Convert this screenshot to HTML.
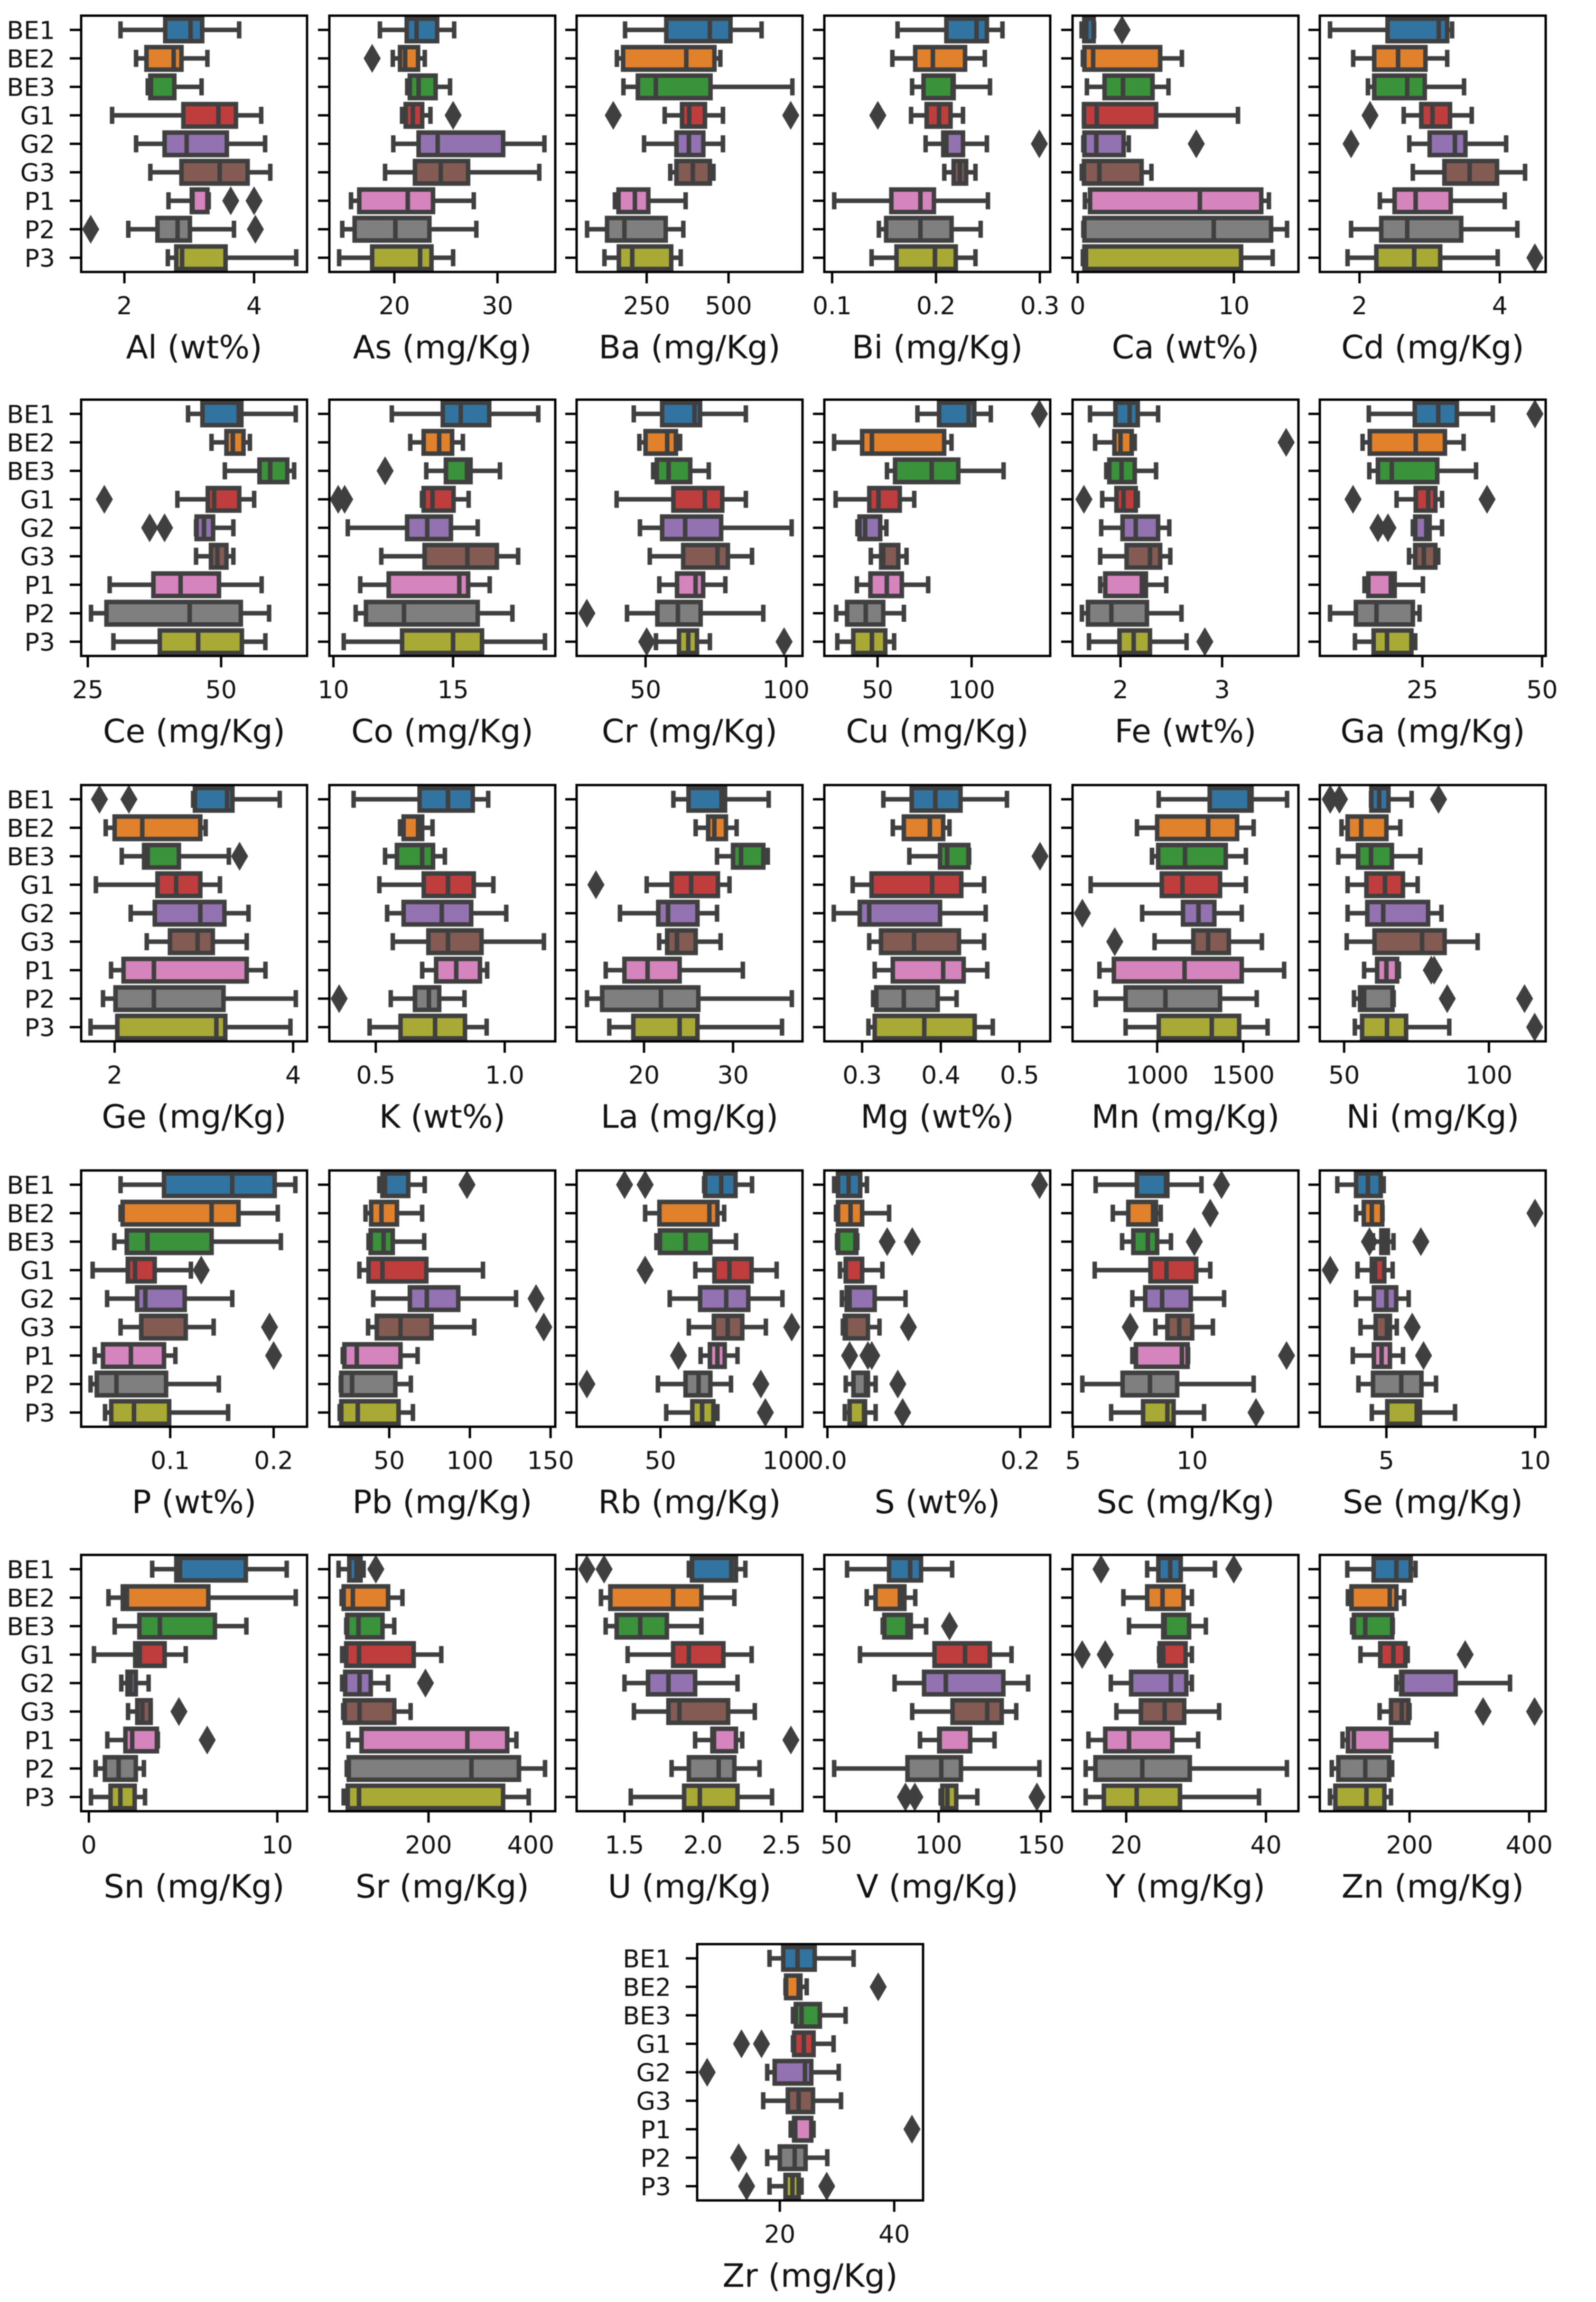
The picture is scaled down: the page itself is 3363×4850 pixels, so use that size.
<!DOCTYPE html>
<html lang="en"><head><meta charset="utf-8"><title>Element concentrations by group</title>
<style>
html,body{margin:0;padding:0;background:#fff;width:3363px;height:4850px;overflow:hidden}
svg{display:block;filter:blur(1px)}
text{font-family:"DejaVu Sans","Liberation Sans",sans-serif;fill:#111}
</style></head><body>
<svg id="chart" xmlns="http://www.w3.org/2000/svg" width="3363" height="4850" viewBox="0 0 3363 4850"></svg>
<script>
const categories=['BE1','BE2','BE3','G1','G2','G3','P1','P2','P3'];
const palette=['#3274a1','#e1812c','#3a923a','#c03d3e','#9372b2','#845b53','#d684bd','#7f7f7f','#a9aa35'];
// each stats row: low whisker, Q1, median, Q3, high whisker
const Al_stats=[[1.94,2.63,3.02,3.20,3.77],[2.18,2.34,2.76,2.88,3.28],[2.36,2.40,2.41,2.77,3.19],[1.81,2.91,3.45,3.72,4.11],[2.18,2.62,2.96,3.58,4.17],[2.40,2.88,3.47,3.90,4.25],[2.68,3.04,3.05,3.28,3.30],[2.06,2.51,2.82,3.01,3.69],[2.67,2.80,2.89,3.56,4.65]];
const Al_fliers=[[],[],[],[],[],[],[3.64,4.0],[1.48,4.02],[]];
const Al_ticks=[2,4];const Al_domain=[1.333,4.817];
const As_stats=[[18.6,21.2,22.15,24.15,25.8],[19.85,20.55,21.05,22.3,22.95],[21.25,21.5,22.35,24.0,25.4],[20.75,21.1,21.8,22.7,23.5],[19.9,22.35,24.2,30.55,34.55],[19.1,22.0,24.5,27.15,34.05],[15.8,16.6,21.3,23.75,27.7],[14.95,16.15,20.1,23.4,27.95],[14.65,17.85,22.5,23.6,25.7]];
const As_fliers=[[],[17.85],[],[25.7],[],[],[],[],[]];
const As_ticks=[20,30];const As_domain=[13.7,35.6];
const Ba_stats=[[184,310,443,506,601],[159,178,371,457,475],[179,223,278,445,695],[305,358,380,428,483],[242,341,379,423,483],[322,341,391,443,454],[153,164,214,255,369],[68,129,182,308,362],[121,165,206,325,354]];
const Ba_fliers=[[],[],[],[148,690],[],[],[],[],[]];
const Ba_ticks=[250,500];const Ba_domain=[36,726];
const Bi_stats=[[.163,.210,.239,.249,.264],[.158,.180,.197,.228,.247],[.177,.188,.216,.217,.252],[.176,.191,.203,.214,.226],[.190,.207,.210,.226,.249],[.208,.217,.223,.229,.238],[.102,.157,.185,.198,.250],[.145,.152,.185,.215,.243],[.138,.162,.199,.219,.238]];
const Bi_fliers=[[],[],[],[.144],[.2995],[],[],[],[]];
const Bi_ticks=[.1,.2,.3];const Bi_domain=[.0925,.31];
const Ca_stats=[[.25,.42,.55,1.02,1.05],[.33,.43,.99,5.28,6.67],[.59,1.72,2.9,4.79,5.81],[.4,.4,1.22,5.02,10.26],[.36,.43,1.19,2.94,3.27],[.26,.4,1.39,4.09,4.72],[.46,.79,7.82,11.75,12.24],[.36,.43,8.71,12.38,13.4],[.33,.43,.53,10.46,12.48]];
const Ca_fliers=[[2.84],[],[],[],[7.59],[],[],[],[]];
const Ca_ticks=[0,10];const Ca_domain=[-.33,14.13];
const Cd_stats=[[1.58,2.40,3.13,3.25,3.32],[1.91,2.21,2.55,2.94,3.25],[2.12,2.21,2.68,2.93,3.49],[2.63,2.88,3.04,3.29,3.60],[2.71,3.0,3.36,3.51,4.09],[2.76,3.21,3.57,3.96,4.36],[2.29,2.50,2.80,3.30,4.07],[1.88,2.31,2.68,3.45,4.25],[1.83,2.24,2.78,3.15,3.97]];
const Cd_fliers=[[],[],[],[2.15],[1.88],[],[],[],[4.5]];
const Cd_ticks=[2,4];const Cd_domain=[1.434,4.654];
const Ce_stats=[[43.8,46.5,53.3,53.8,64],[48.2,51,52.2,54.2,55.4],[50.7,57.2,59.2,62.4,63.7],[41.8,47.5,48.7,53.4,56.2],[45.3,45.4,46.8,48.5,52.3],[45.3,48.1,49.3,51,52.3],[29.1,37.3,42.4,49.6,57.6],[25.6,28.5,44.1,53.7,59],[29.8,38.5,45.7,53.9,58.3]];
const Ce_fliers=[[],[],[],[28.1],[36.6,39.4],[],[],[],[]];
const Ce_ticks=[25,50];const Ce_domain=[23.75,66.12];
const Co_stats=[[12.44,14.57,15.32,16.51,18.56],[13.21,13.77,14.42,14.96,15.41],[13.88,14.7,15.58,15.73,16.96],[13.7,13.77,14.14,15.02,15.65],[10.6,13.08,13.92,14.91,16.03],[12.0,13.81,15.6,16.83,17.72],[11.12,12.31,15.26,15.63,16.53],[10.93,11.36,12.95,16.03,17.48],[10.43,12.87,15,16.21,18.84]];
const Co_fliers=[[],[],[12.16],[10.2,10.47],[],[],[],[],[]];
const Co_ticks=[10,15];const Co_domain=[9.83,19.27];
const Cr_stats=[[45.8,55.9,67.4,69.4,85.7],[47.8,50,57.7,60.8,62.3],[52.7,54,58.2,65.9,72.5],[39.7,59.9,71.1,77.3,85.7],[48,55.9,64.1,76.9,102],[51.5,63.4,75.6,79.3,87.9],[54.9,61.2,67.8,70.5,78.4],[43.4,54.2,61.5,69.6,91.9],[53.7,61.9,65.2,68.3,72.9]];
const Cr_fliers=[[],[],[],[],[],[],[],[29.1],[50.4,99.3]];
const Cr_ticks=[50,100];const Cr_domain=[25.46,105.86];
const Cu_stats=[[71.2,82.7,98.4,101.4,110.2],[26.9,41.8,47,85.4,89.3],[55,59.3,78.8,92.9,117],[27.7,45.6,50.5,61.8,69.5],[39.3,40.4,43.4,51.4,54.7],[46.4,51.9,53,61,65.4],[39,46.2,54.9,62.9,76.9],[28,33.8,43.7,53,64],[28.6,37.1,47,54.1,58.8]];
const Cu_fliers=[[136],[],[],[],[],[],[],[],[]];
const Cu_ticks=[50,100];const Cu_domain=[21.7,141.8];
const Fe_stats=[[1.70,1.95,2.09,2.17,2.37],[1.75,1.94,2.0,2.11,2.14],[1.86,1.89,2.01,2.14,2.35],[1.82,1.96,2.03,2.15,2.17],[1.81,2.02,2.15,2.37,2.48],[1.80,2.06,2.29,2.39,2.49],[1.80,1.85,2.21,2.25,2.45],[1.62,1.68,1.91,2.26,2.60],[1.69,1.99,2.13,2.29,2.65]];
const Fe_fliers=[[],[3.63],[],[1.64],[],[],[],[],[2.83]];
const Fe_ticks=[2,3];const Fe_domain=[1.528,3.751];
const Ga_stats=[[13.8,23.4,28.3,32.2,39.7],[12.5,14,23.6,29.7,33.6],[13.9,15.7,18.6,28.1,36.2],[19.6,23.6,26.2,27.7,29.1],[23,23.5,25.8,26.5,29.1],[22.2,23.5,25.3,27.7,28.3],[12.9,13.7,18.4,19.2,25.1],[5.7,11.1,15.4,23,24.4],[10.9,14.8,17.6,22.7,23.5]];
const Ga_fliers=[[48.5],[],[],[10.5,38.5],[15.7,17.8],[],[],[],[]];
const Ga_ticks=[25,50];const Ga_domain=[3.56,50.75];
const Ge_stats=[[2.88,2.90,3.26,3.32,3.85],[1.90,2.0,2.31,2.96,3.02],[2.08,2.33,2.37,2.72,3.28],[1.79,2.48,2.69,2.96,3.18],[2.18,2.45,2.96,3.23,3.50],[2.36,2.62,2.93,3.10,3.48],[1.96,2.10,2.44,3.48,3.69],[1.87,2.01,2.44,3.22,4.03],[1.73,2.03,3.14,3.24,3.97]];
const Ge_fliers=[[1.83,2.16],[],[3.40],[],[],[],[],[],[]];
const Ge_ticks=[2,4];const Ge_domain=[1.625,4.156];
const K_stats=[[.414,.67,.78,.876,.936],[.594,.608,.664,.68,.72],[.536,.582,.68,.722,.768],[.514,.686,.78,.88,.956],[.544,.608,.756,.87,1.006],[.566,.704,.78,.91,1.152],[.68,.734,.812,.904,.932],[.558,.652,.706,.746,.844],[.476,.596,.73,.846,.93]];
const K_fliers=[[],[],[],[],[],[],[],[.358],[]];
const K_ticks=[.5,1];const K_domain=[.32,1.196];
const La_stats=[[23.3,25.0,28.7,29.1,34],[25.8,27.2,27.9,29.2,30.4],[28.2,30,30.9,33.4,33.9],[20.3,23.1,25.3,28.3,29.6],[17.3,21.6,22.7,26,28.2],[21.7,22.6,23.7,25.8,28.6],[15.7,17.8,20.4,24,31.1],[13.6,15.3,21.9,26.1,36.6],[16.1,18.8,24,26,35.5]];
const La_fliers=[[],[],[],[14.6],[],[],[],[],[]];
const La_ticks=[20,30];const La_domain=[12.43,37.8];
const Mg_stats=[[.327,.363,.393,.425,.484],[.339,.353,.386,.403,.411],[.360,.399,.408,.435,.436],[.288,.312,.389,.426,.455],[.264,.297,.309,.399,.457],[.309,.324,.366,.423,.455],[.316,.339,.403,.429,.459],[.314,.318,.353,.396,.420],[.308,.316,.379,.443,.466]];
const Mg_fliers=[[],[],[.526],[],[],[],[],[],[]];
const Mg_ticks=[.3,.4,.5];const Mg_domain=[.252,.539];
const Mn_stats=[[1009,1305,1536,1548,1754],[883,1000,1296,1464,1560],[970,1006,1162,1398,1515],[614,1027,1147,1365,1515],[913,1150,1240,1332,1491],[985,1210,1296,1416,1608],[665,749,1159,1491,1737],[644,817,1048,1365,1578],[817,1009,1317,1476,1641]];
const Mn_fliers=[[],[],[],[],[566],[754],[],[],[]];
const Mn_ticks=[1000,1500];const Mn_domain=[509,1820];
const Ni_stats=[[59.3,59.4,62.1,65.3,73.3],[49.1,51.2,55.9,64.6,69.4],[48,54.8,59.3,66.5,76.3],[51.2,57.7,64.1,70.3,75.4],[51.2,58,63.5,79,83.6],[50.9,60.5,76.9,84.7,96.1],[56.9,61.4,64.6,68.3,68.9],[53.4,55.5,56.9,66.7,67.1],[53.7,56.2,64.8,71.4,86.3]];
const Ni_fliers=[[45.2,48.4,82.6],[],[],[],[],[],[80.1,81.1],[85.6,112.3],[115.8]];
const Ni_ticks=[50,100];const Ni_domain=[41.6,119.6];
const P_stats=[[.052,.094,.16,.201,.221],[.052,.054,.14,.166,.204],[.046,.058,.078,.140,.207],[.025,.059,.066,.085,.120],[.039,.068,.076,.114,.160],[.052,.072,.072,.115,.142],[.027,.035,.062,.094,.105],[.023,.029,.048,.096,.147],[.037,.043,.065,.099,.156]];
const P_fliers=[[],[],[],[.130],[],[.196],[.20],[],[]];
const P_ticks=[.1,.2];const P_domain=[.0139,.2323];
const Pb_stats=[[43.9,45.8,47.4,61.8,72],[35.3,38.8,45.2,54.8,70.4],[37.2,38.5,46.5,52.2,71.7],[31.5,37.2,45.8,73,108.1],[40.1,62.8,73.3,92.8,128.6],[36.9,42.3,57,76.2,102.7],[21.2,22.2,29.9,57,67.6],[20,20.3,27,53.8,63.4],[19.3,20.3,30.5,55.8,64.7]];
const Pb_fliers=[[98.2],[],[],[],[141],[145.8],[],[],[]];
const Pb_ticks=[50,100,150];const Pb_domain=[12.9,152.9];
const Rb_stats=[[67.4,67.8,74.2,79.9,86.5],[43.9,49.6,69.5,72.7,75.4],[48.4,49.8,60,69.9,80.1],[63.9,71.5,77.5,86.3,96.3],[53.7,65.8,76.2,85,98.6],[61.3,71.3,76.8,82.6,92],[66,69.7,72.7,75.6,80.7],[49,60,65.2,69.9,78.1],[52.3,62.7,66.6,71.1,72.7]];
const Rb_fliers=[[35.7,43.9],[],[],[43.9],[],[102.3],[57.2],[20.7,90],[91.8]];
const Rb_ticks=[50,100];const Rb_domain=[16.6,106.6];
const S_stats=[[.007,.011,.022,.034,.041],[.009,.011,.024,.036,.064],[.010,.011,.029,.030,.031],[.013,.019,.019,.036,.057],[.015,.020,.023,.049,.081],[.016,.018,.019,.042,.054],null,[.019,.027,.040,.042,.050],[.018,.023,.038,.039,.050]];
const S_fliers=[[.22],[],[.062,.088],[],[],[.084],[.023,.042,.046],[.073],[.078]];
const S_ticks=[0,.2];const S_domain=[-.0032,.2311];
const Sc_stats=[[5.95,7.68,8.9,8.96,10.39],[6.67,7.32,8.36,8.48,8.68],[7.06,7.53,8.14,8.53,9.11],[5.91,8.25,8.92,10.17,10.76],[7.49,8.03,8.74,9.94,11.34],[8.46,8.96,9.46,10,10.87],[7.49,7.64,9.57,9.81,9.83],[5.39,7.08,8.23,9.37,12.58],[6.6,7.94,8.96,9.22,10.5]];
const Sc_fliers=[[11.23],[10.76],[10.09],[],[],[7.4],[13.96],[],[12.68]];
const Sc_ticks=[5,10];const Sc_domain=[4.98,14.46];
const Se_stats=[[3.35,3.98,4.38,4.81,4.91],[3.98,4.24,4.51,4.86,4.87],[4.55,4.83,4.93,5.05,5.24],[4.03,4.51,4.62,4.93,5.21],[3.98,4.58,5,5.33,5.75],[4.13,4.64,5.02,5.12,5.35],[3.87,4.58,4.84,5.12,5.56],[4.06,4.55,5.5,6.18,6.67],[4.51,5.03,6.02,6.13,7.31]];
const Se_fliers=[[],[10],[4.43,6.16],[3.11],[],[5.87],[6.25],[],[]];
const Se_ticks=[5,10];const Se_domain=[2.76,10.36];
const Sn_stats=[[3.36,4.64,4.84,8.33,10.5],[1.04,1.80,2.02,6.34,10.98],[1.37,2.68,3.77,6.69,8.36],[.27,2.46,2.70,4.02,5.14],[1.72,2.05,2.21,2.49,3.17],[2.08,2.57,2.84,3.28,3.28],[.98,1.94,2.30,3.61,3.66],[.36,.85,1.58,2.49,2.92],[.11,1.15,1.67,2.43,2.98]];
const Sn_fliers=[[],[],[],[],[],[4.78],[6.28],[],[]];
const Sn_ticks=[0,10];const Sn_domain=[-.41,11.58];
const Sr_stats=[[24,45,59,67,73],[30,34,52,121,149],[39,41,63,110,133],[31,39,64,171,225],[31,37,65,87,121],[33,36,65,133,165],[43,69,276,354,372],[40,44,284,377,428],[34,42,64,346,396]];
const Sr_fliers=[[97],[],[],[],[194],[],[],[],[]];
const Sr_ticks=[200,400];const Sr_domain=[6,448];
const U_stats=[[1.91,1.93,2.18,2.21,2.27],[1.35,1.41,1.81,1.99,2.20],[1.38,1.45,1.60,1.77,1.99],[1.52,1.81,1.91,2.13,2.31],[1.50,1.65,1.78,1.95,2.22],[1.56,1.78,1.85,2.16,2.33],[1.95,2.06,2.07,2.21,2.25],[1.80,1.91,2.10,2.20,2.36],[1.54,1.88,1.98,2.22,2.44]];
const U_fliers=[[1.26,1.37],[],[],[],[],[],[2.56],[],[]];
const U_ticks=[1.5,2,2.5];const U_domain=[1.195,2.634];
const V_stats=[[55.3,75.8,86.1,91.4,106.6],[64.9,69.2,81.1,83.3,88.6],[72.7,73.5,84.8,86.4,93.9],[61.6,98,112.9,125,135.6],[78.5,92.9,103.5,131.6,143.7],[87.1,106.8,123.7,130.8,137.9],[90.9,100.3,100.5,115.4,127.3],[49,84.8,101.3,110.9,149.2],[101,101.8,104.3,108.6,118.9]];
const V_fliers=[[],[],[105.3],[],[],[],[],[],[83.8,88.4,148]];
const V_ticks=[50,100,150];const V_domain=[44.2,154.5];
const Y_stats=[[23,24.6,26.3,27.8,32.7],[19.6,23,25.2,28.2,29.4],[20.4,25.3,25.5,29,31.4],[24.7,24.8,25.3,28.5,29.4],[17.8,20.7,26.4,28.6,29.4],[18.6,22.1,25.5,28.3,33.3],[14.6,17,20.4,26.6,30.3],[14.2,15.6,22.3,29.1,43],[14.2,16.8,21.5,27.7,39]];
const Y_fliers=[[16.4,35.4],[],[],[13.7,17],[],[],[],[],[]];
const Y_ticks=[20,40];const Y_domain=[12.32,44.65];
const Zn_stats=[[96,140,178,202,210],[97,103,167,178,191],[104,107,126,171,172],[118,151,173,193,197],[178,186,188,277,368],[150,169,187,198,200],[88,97,107,169,245],[70,81,126,166,171],[67,76,128,158,169]];
const Zn_fliers=[[],[],[],[293],[],[323,409],[],[],[]];
const Zn_ticks=[200,400];const Zn_domain=[50,427.6];
const Zr_stats=[[18.2,20.6,23.1,26.1,32.9],[21,21.1,23.3,23.6,24.7],[22.3,22.8,23.8,27,31.5],[22.3,22.5,24.2,25.9,29.4],[17.8,19.1,24.4,25.5,30.3],[17.1,21.4,23.3,25.8,30.7],[21.9,22.5,22.7,25.5,25.9],[17.8,20,22.6,24.5,28.3],[18.2,21,22.2,23.3,23.8]];
const Zr_fliers=[[],[37.2],[],[13.3,16.8],[7.3],[],[43.1],[12.8],[14.2,28.2]];
const Zr_ticks=[20,40];const Zr_domain=[5.55,45.04];

const panels=[
['Al (wt%)',Al_stats,Al_fliers,Al_ticks,Al_domain,0],['As (mg/Kg)',As_stats,As_fliers,As_ticks,As_domain,0],['Ba (mg/Kg)',Ba_stats,Ba_fliers,Ba_ticks,Ba_domain,0],['Bi (mg/Kg)',Bi_stats,Bi_fliers,Bi_ticks,Bi_domain,1],['Ca (wt%)',Ca_stats,Ca_fliers,Ca_ticks,Ca_domain,0],['Cd (mg/Kg)',Cd_stats,Cd_fliers,Cd_ticks,Cd_domain,0],
['Ce (mg/Kg)',Ce_stats,Ce_fliers,Ce_ticks,Ce_domain,0],['Co (mg/Kg)',Co_stats,Co_fliers,Co_ticks,Co_domain,0],['Cr (mg/Kg)',Cr_stats,Cr_fliers,Cr_ticks,Cr_domain,0],['Cu (mg/Kg)',Cu_stats,Cu_fliers,Cu_ticks,Cu_domain,0],['Fe (wt%)',Fe_stats,Fe_fliers,Fe_ticks,Fe_domain,0],['Ga (mg/Kg)',Ga_stats,Ga_fliers,Ga_ticks,Ga_domain,0],
['Ge (mg/Kg)',Ge_stats,Ge_fliers,Ge_ticks,Ge_domain,0],['K (wt%)',K_stats,K_fliers,K_ticks,K_domain,1],['La (mg/Kg)',La_stats,La_fliers,La_ticks,La_domain,0],['Mg (wt%)',Mg_stats,Mg_fliers,Mg_ticks,Mg_domain,1],['Mn (mg/Kg)',Mn_stats,Mn_fliers,Mn_ticks,Mn_domain,0],['Ni (mg/Kg)',Ni_stats,Ni_fliers,Ni_ticks,Ni_domain,0],
['P (wt%)',P_stats,P_fliers,P_ticks,P_domain,1],['Pb (mg/Kg)',Pb_stats,Pb_fliers,Pb_ticks,Pb_domain,0],['Rb (mg/Kg)',Rb_stats,Rb_fliers,Rb_ticks,Rb_domain,0],['S (wt%)',S_stats,S_fliers,S_ticks,S_domain,1],['Sc (mg/Kg)',Sc_stats,Sc_fliers,Sc_ticks,Sc_domain,0],['Se (mg/Kg)',Se_stats,Se_fliers,Se_ticks,Se_domain,0],
['Sn (mg/Kg)',Sn_stats,Sn_fliers,Sn_ticks,Sn_domain,0],['Sr (mg/Kg)',Sr_stats,Sr_fliers,Sr_ticks,Sr_domain,0],['U (mg/Kg)',U_stats,U_fliers,U_ticks,U_domain,1],['V (mg/Kg)',V_stats,V_fliers,V_ticks,V_domain,0],['Y (mg/Kg)',Y_stats,Y_fliers,Y_ticks,Y_domain,0],['Zn (mg/Kg)',Zn_stats,Zn_fliers,Zn_ticks,Zn_domain,0],
['Zr (mg/Kg)',Zr_stats,Zr_fliers,Zr_ticks,Zr_domain,0]
];

const NS='http://www.w3.org/2000/svg';
const root=document.getElementById('chart');
const DARK='#3f3f3f',LW=9.5,AW=476,AH=540;
const colX=[171,694,1215,1737,2260,2781];
const rowY=[33,842,1654,2466,3276,4096];
const slug=s=>s.split(' ')[0].toLowerCase();
function mk(tag,parent,attrs){
  const e=document.createElementNS(NS,tag);
  for(const k in attrs)e.setAttribute(k,attrs[k]);
  parent.appendChild(e);
  return e;
}
function drawPanel(p,idx){
  const [label,stats,fliers,ticks,domain,decimals]=p;
  const isLast=idx===30;
  const ax=isLast?1469:colX[idx%6];
  const ay=isLast?rowY[5]:rowY[Math.floor(idx/6)];
  const showYLabels=isLast||idx%6===0;
  const name=slug(label);
  const xScale=v=>ax+(v-domain[0])/(domain[1]-domain[0])*AW;
  const yScale=i=>ay+(i+.5)*AH/categories.length;
  const g=mk('g',root,{});
  
  
  const clip=mk('clipPath',g,{id:'clip-'+name});
  mk('rect',clip,{x:ax,y:ay,width:AW,height:AH});
  const marks=mk('g',g,{'clip-path':'url(#clip-'+name+')'});
  
  
  categories.forEach((cat,i)=>{
    const cy=yScale(i);
    const s=stats[i];
    const bg=mk('g',marks,{});
    
    
    if(s){
      const [lo,q1,med,q3,hi]=s;
      const lineAttrs={stroke:DARK,'stroke-width':LW,'stroke-linecap':'butt'};
      const box=mk('rect',bg,{x:xScale(q1),y:cy-23.7,width:xScale(q3)-xScale(q1),height:47.4,fill:palette[i],stroke:DARK,'stroke-width':LW});
      
      
      const wl=mk('line',bg,Object.assign({x1:xScale(q1),x2:xScale(lo),y1:cy,y2:cy},lineAttrs));
      
      
      const wh=mk('line',bg,Object.assign({x1:xScale(q3),x2:xScale(hi),y1:cy,y2:cy},lineAttrs));
      
      
      const cl=mk('line',bg,Object.assign({x1:xScale(lo),x2:xScale(lo),y1:cy-18,y2:cy+18},lineAttrs));
      
      
      const ch=mk('line',bg,Object.assign({x1:xScale(hi),x2:xScale(hi),y1:cy-18,y2:cy+18},lineAttrs));
      
      
      const md=mk('line',bg,{x1:xScale(med),x2:xScale(med),y1:cy-23.7,y2:cy+23.7,stroke:DARK,'stroke-width':LW});
      
      
    }
    fliers[i].forEach(v=>{
      const fx=xScale(v);
      const d=mk('polygon',bg,{points:[[fx,cy-30.5],[fx+18,cy],[fx,cy+30.5],[fx-18,cy]].map(q=>q.join(',')).join(' '),fill:DARK});
      
      
    });
    const tk=mk('line',g,{x1:ax-24,x2:ax,y1:cy,y2:cy,stroke:'#000','stroke-width':5});
    
    
    if(showYLabels){
      const lb=mk('text',g,{x:ax-55,y:cy+19,'font-size':52,'text-anchor':'end'});
      lb.textContent=cat;
      
      
    }
  });
  const frame=mk('rect',g,{x:ax,y:ay,width:AW,height:AH,fill:'none',stroke:'#000','stroke-width':5});
  
  
  ticks.forEach(v=>{
    const tx=xScale(v);
    const tk=mk('line',g,{x1:tx,x2:tx,y1:ay+AH,y2:ay+AH+24,stroke:'#000','stroke-width':5});
    
    
    const lb=mk('text',g,{x:tx,y:ay+AH+89,'font-size':52,'text-anchor':'middle'});
    lb.textContent=decimals||!Number.isInteger(v)||label==='S (wt%)'?v.toFixed(1):String(v);
    
    
  });
  const xl=mk('text',g,{x:ax+AW/2,y:ay+AH+182,'font-size':68,'text-anchor':'middle'});
  xl.textContent=label;
  
  
}
panels.forEach(drawPanel);
</script>
</body></html>
